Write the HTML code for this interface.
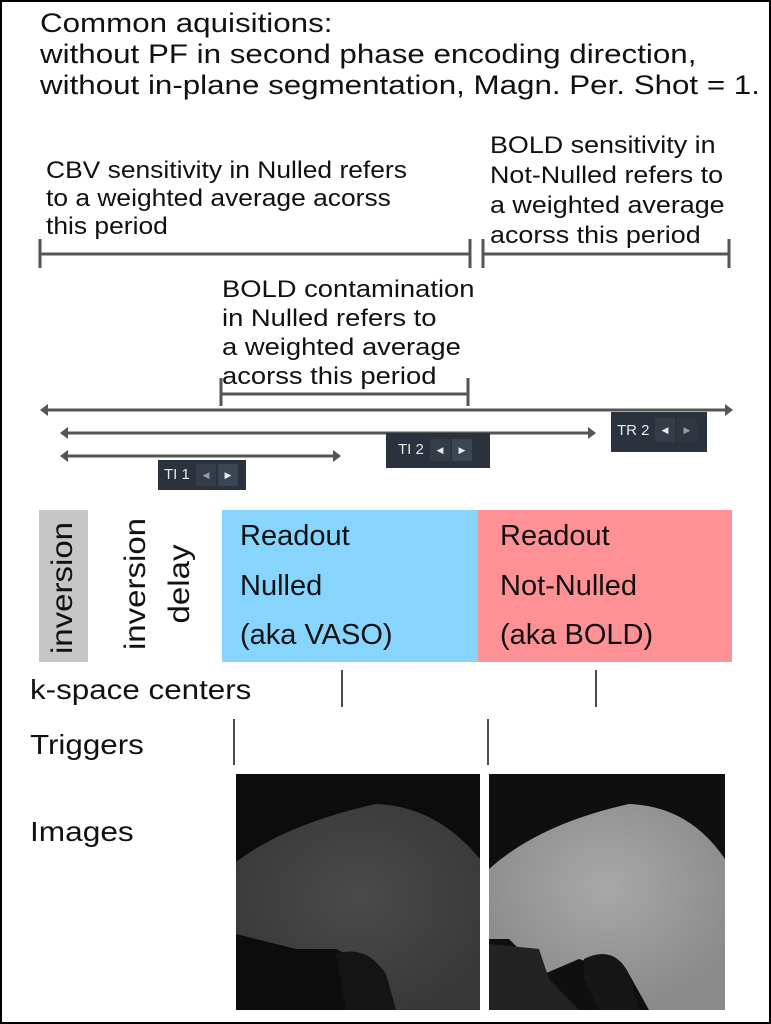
<!DOCTYPE html>
<html><head><style>
html,body{margin:0;padding:0;}
body{width:771px;height:1024px;position:relative;background:#fff;font-family:"Liberation Sans","DejaVu Sans",sans-serif;overflow:hidden;}
.frame{position:absolute;left:0;top:0;width:767px;height:1020px;border:2px solid #000;}
.t{position:absolute;color:#111;white-space:nowrap;transform-origin:0 0;}
.box{position:absolute;}
.ctl{position:absolute;background:#2b323d;color:#e8e8e8;font-size:15px;}
</style></head><body>
<div class="frame"></div>
<div class="t" style="left:40px;top:8px;font-size:27px;line-height:31px;transform:scaleX(1.16);">Common aquisitions:<br>without PF in second phase encoding direction,<br>without in-plane segmentation, Magn. Per. Shot = 1.</div>
<div class="t" style="left:46px;top:157px;font-size:24px;line-height:28px;transform:scaleX(1.1);">CBV sensitivity in Nulled refers<br>to a weighted average acorss<br>this period</div>
<div class="t" style="left:490px;top:131px;font-size:24px;line-height:30px;transform:scaleX(1.12);">BOLD sensitivity in<br>Not-Nulled refers to<br>a weighted average<br>acorss this period</div>
<div class="t" style="left:222px;top:275px;font-size:24px;line-height:29px;transform:scaleX(1.14);">BOLD contamination<br>in Nulled refers to<br>a weighted average<br>acorss this period</div>
<svg style="position:absolute;left:0;top:0" width="771" height="1024">
<g stroke="#555" stroke-width="3" fill="none">
<path d="M40,254H470M40,239V268M470,239V268"/>
<path d="M483,254H729M483,239V268M729,239V268"/>
<path d="M221,394H468M221,378V406M468,378V406"/>
<path d="M46,410H727"/>
<path d="M66,433H590"/>
<path d="M66,456H335"/>
</g>
<g fill="#555">
<path d="M40,410L48,404L48,416Z"/><path d="M733,410L725,404L725,416Z"/>
<path d="M60,433L68,427L68,439Z"/><path d="M596,433L588,427L588,439Z"/>
<path d="M60,456L68,450L68,462Z"/><path d="M341,456L333,450L333,462Z"/>
</g>
<g stroke="#111" stroke-width="1.5">
<path d="M342,670V707M596,670V707M234,719V765M488,719V765"/>
</g>
</svg>
<div class="ctl" style="left:158px;top:460px;width:88px;height:30px;"><span style="position:absolute;left:6px;top:6px;">TI 1</span><span style="position:absolute;left:38px;top:4px;width:20px;height:22px;background:#343c48;font-size:9px;text-align:center;line-height:22px;color:#999">◀</span><span style="position:absolute;left:60px;top:4px;width:20px;height:22px;background:#3c4552;font-size:9px;text-align:center;line-height:22px;">▶</span></div>
<div class="ctl" style="left:386px;top:433px;width:104px;height:35px;"><span style="position:absolute;left:12px;top:8px;">TI 2</span><span style="position:absolute;left:44px;top:6px;width:20px;height:22px;background:#343c48;font-size:9px;text-align:center;line-height:22px;">◀</span><span style="position:absolute;left:66px;top:6px;width:20px;height:22px;background:#3c4552;font-size:9px;text-align:center;line-height:22px;">▶</span></div>
<div class="ctl" style="left:611px;top:412px;width:96px;height:40px;"><span style="position:absolute;left:6px;top:10px;">TR 2</span><span style="position:absolute;left:44px;top:6px;width:20px;height:24px;background:#343c48;font-size:9px;text-align:center;line-height:24px;">◀</span><span style="position:absolute;left:66px;top:6px;width:20px;height:24px;background:#2f3640;font-size:9px;text-align:center;line-height:24px;color:#999">▶</span></div>
<div class="box" style="left:39px;top:510px;width:49px;height:152px;background:#c6c6c6;"></div>
<div class="t" style="left:63px;top:588px;font-size:30px;transform-origin:50% 50%;transform:translate(-50%,-50%) rotate(-90deg) scaleX(1.1);">inversion</div>
<div class="t" style="left:158px;top:584px;font-size:30px;line-height:44px;text-align:center;transform-origin:50% 50%;transform:translate(-50%,-50%) rotate(-90deg) scaleX(1.1);">inversion<br>delay</div>
<div class="box" style="left:222px;top:510px;width:256px;height:152px;background:#87d5fd;"></div>
<div class="box" style="left:478px;top:510px;width:254px;height:152px;background:#fe9195;"></div>
<div class="t" style="left:240px;top:512px;font-size:29px;line-height:49.5px;">Readout<br>Nulled<br>(aka VASO)</div>
<div class="t" style="left:500px;top:512px;font-size:29px;line-height:49.5px;">Readout<br>Not-Nulled<br>(aka BOLD)</div>
<div class="t" style="left:30px;top:674px;font-size:28px;transform:scaleX(1.12);">k-space centers</div>
<div class="t" style="left:30px;top:729px;font-size:28px;transform:scaleX(1.12);">Triggers</div>
<div class="t" style="left:30px;top:816px;font-size:28px;transform:scaleX(1.13);">Images</div>
<svg style="position:absolute;left:236px;top:774px" width="244" height="236">
<defs><radialGradient id="g1" cx="0.5" cy="0.45" r="0.6"><stop offset="0" stop-color="#4a4a4a"/><stop offset="1" stop-color="#383838"/></radialGradient></defs>
<rect width="244" height="236" fill="#0c0c0c"/>
<path d="M0,88 Q50,50 140,30 Q200,32 244,85 L244,236 L150,236 L130,190 L100,175 L60,175 L20,165 L0,160Z" fill="url(#g1)"/>
<path d="M100,180 Q130,170 150,200 L160,236 L110,236Z" fill="#141414"/>
</svg>
<svg style="position:absolute;left:489px;top:774px" width="236" height="236">
<defs><radialGradient id="g2" cx="0.5" cy="0.4" r="0.6"><stop offset="0" stop-color="#a8a8a8"/><stop offset="1" stop-color="#8a8a8a"/></radialGradient></defs>
<rect width="236" height="236" fill="#0f0f0f"/>
<path d="M0,95 Q50,50 140,30 Q200,32 236,85 L236,236 L160,236 L140,200 L90,185 L55,200 L20,165 L0,165Z" fill="url(#g2)"/>
<path d="M95,185 Q125,170 140,200 L150,236 L110,236 L95,205Z" fill="#161616"/>
<path d="M0,170 L50,175 L60,205 L90,236 L0,236Z" fill="#222"/>
</svg>
</body></html>
